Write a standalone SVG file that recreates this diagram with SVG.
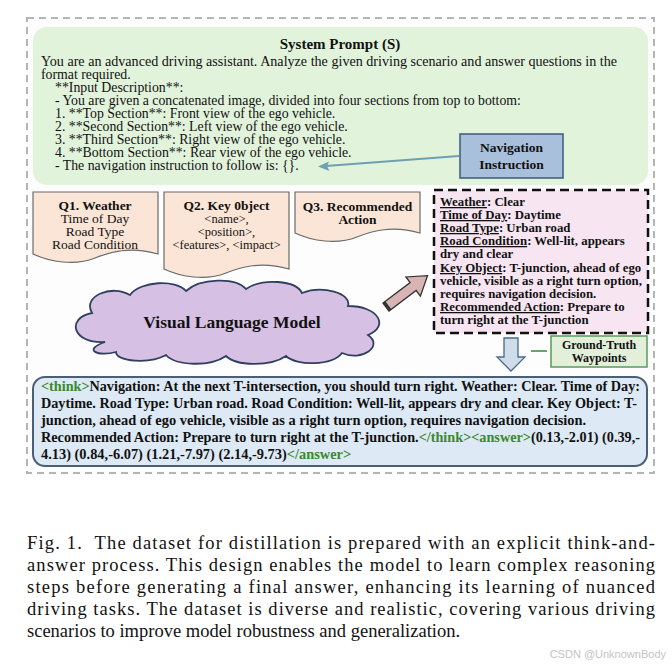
<svg xmlns="http://www.w3.org/2000/svg" width="672" height="667" viewBox="0 0 672 667">
<style>
.t{font-family:"Liberation Serif","Times New Roman",serif;fill:#111}
.b{font-weight:bold}
.doc{fill:#fbe5d6;stroke:#6b6b6b;stroke-width:1.2}
.g{fill:#3a8a2a}
</style>
<rect width="672" height="667" fill="#fff"/>
<rect x="27" y="18" width="627" height="455" fill="#fdfdfd" stroke="#b5b5b5" stroke-width="2" stroke-dasharray="7,5"/>
<g id="system-prompt">
<rect x="33" y="27" width="615" height="158" rx="14" fill="#e2f3dc"/>
<text class="t b" x="340" y="49" font-size="15" text-anchor="middle">System Prompt (S)</text>
<g class="t" font-size="13.8">
<text x="41" y="66" textLength="576" lengthAdjust="spacingAndGlyphs">You are an advanced driving assistant. Analyze the given driving scenario and answer questions in the</text>
<text x="41" y="79">format required.</text>
<text x="55" y="92">**Input Description**:</text>
<text x="55" y="105">- You are given a concatenated image, divided into four sections from top to bottom:</text>
<text x="55" y="118">1. **Top Section**: Front view of the ego vehicle.</text>
<text x="55" y="131">2. **Second Section**: Left view of the ego vehicle.</text>
<text x="55" y="144">3. **Third Section**: Right view of the ego vehicle.</text>
<text x="55" y="157">4. **Bottom Section**: Rear view of the ego vehicle.</text>
<text x="55" y="170">- The navigation instruction to follow is: {}.</text>
</g>
</g>
<g id="navigation-instruction">
<rect x="460" y="134" width="103" height="44" fill="#a9c0dc" stroke="#3d5a7a" stroke-width="1.5"/>
<text class="t b" x="511.5" y="152" font-size="13.5" text-anchor="middle">Navigation</text>
<text class="t b" x="511.5" y="169" font-size="13.5" text-anchor="middle">Instruction</text>
</g>
<g id="q1">
<path class="doc" d="M33,192 H158 V254 C130,246 110,252 95,258 C75,266 50,262 33,254 Z"/>
<text class="t b" x="95" y="210" font-size="13.5" text-anchor="middle">Q1. Weather</text>
<text class="t" x="95" y="223" font-size="13.5" text-anchor="middle">Time of Day</text>
<text class="t" x="95" y="236" font-size="13.5" text-anchor="middle">Road Type</text>
<text class="t" x="95" y="249" font-size="13.5" text-anchor="middle">Road Condition</text>
</g>
<g id="q2">
<path class="doc" d="M164,192 H289 V269 C261,261 241,267 226,273 C206,281 181,277 164,269 Z"/>
<text class="t b" x="226.5" y="210" font-size="13.5" text-anchor="middle">Q2. Key 0bject</text>
<text class="t" x="226.5" y="223" font-size="12.5" text-anchor="middle">&lt;name&gt;,</text>
<text class="t" x="226.5" y="236" font-size="12.5" text-anchor="middle">&lt;position&gt;,</text>
<text class="t" x="226.5" y="249" font-size="12.5" text-anchor="middle">&lt;features&gt;, &lt;impact&gt;</text>
</g>
<g id="q3">
<path class="doc" d="M295,192 H420 V233 C392,225 372,231 357,237 C337,245 312,241 295,233 Z"/>
<text class="t b" x="357.5" y="211" font-size="13.5" text-anchor="middle">Q3. Recommended</text>
<text class="t b" x="357.5" y="224" font-size="13.5" text-anchor="middle">Action</text>
</g>
<g id="vlm">
<path d="M105,342 C72,344 66,318 92,313 C82,296 112,284 130,295 C140,281 176,279 186,291 C200,278 236,277 246,289 C262,278 296,280 302,293 C322,285 352,293 348,306 C378,306 390,326 368,335 C384,346 362,362 342,353 C332,366 296,366 286,356 C270,367 236,366 226,356 C210,367 176,366 166,355 C150,364 116,362 116,352 C98,357 82,350 105,342 Z" fill="#d6c0e3" stroke="#2f3f5f" stroke-width="1.8"/>
<text class="t b" x="232" y="328" font-size="17.5" text-anchor="middle">Visual Language Model</text>
</g>
<g id="output">
<rect x="434" y="190" width="214" height="143" fill="#f7e6f1" stroke="#111" stroke-width="2.5" stroke-dasharray="9,5"/>
<g class="t b" font-size="12.8">
<text x="440" y="206"><tspan text-decoration="underline">Weather</tspan>: Clear</text>
<text x="440" y="219"><tspan text-decoration="underline">Time of Day</tspan>: Daytime</text>
<text x="440" y="232"><tspan text-decoration="underline">Road Type</tspan>: Urban road</text>
<text x="440" y="245"><tspan text-decoration="underline">Road Condition</tspan>: Well-lit, appears</text>
<text x="440" y="258">dry and clear</text>
<text x="440" y="272"><tspan text-decoration="underline">Key Object</tspan>: T-junction, ahead of ego</text>
<text x="440" y="285">vehicle, visible as a right turn option,</text>
<text x="440" y="298">requires navigation decision.</text>
<text x="440" y="311"><tspan text-decoration="underline">Recommended Action</tspan>: Prepare to</text>
<text x="440" y="324">turn right at the T-junction</text>
</g>
</g>
<g id="ground-truth">
<rect x="551" y="336" width="96" height="31" fill="#e2efd9" stroke="#5a9a5a" stroke-width="1.5"/>
<text class="t b" x="599" y="349" font-size="12" text-anchor="middle">Ground-Truth</text>
<text class="t b" x="599" y="362" font-size="12" text-anchor="middle">Waypoints</text>
</g>
<g id="answer">
<rect x="33" y="377" width="614" height="89" rx="12" fill="#dde9f5" stroke="#4a5f75" stroke-width="2"/>
<g class="t b" font-size="14.4">
<text x="41" y="391" textLength="599" lengthAdjust="spacingAndGlyphs"><tspan class="g">&lt;think&gt;</tspan>Navigation: At the next T-intersection, you should turn right. Weather: Clear. Time of Day:</text>
<text x="41" y="408" textLength="596" lengthAdjust="spacingAndGlyphs">Daytime. Road Type: Urban road. Road Condition: Well-lit, appears dry and clear. Key Object: T-</text>
<text x="41" y="425">junction, ahead of ego vehicle, visible as a right turn option, requires navigation decision.</text>
<text x="41" y="442" textLength="599" lengthAdjust="spacingAndGlyphs">Recommended Action: Prepare to turn right at the T-junction.<tspan class="g">&lt;/think&gt;&lt;answer&gt;</tspan>(0.13,-2.01) (0.39,-</text>
<text x="41" y="459">4.13) (0.84,-6.07) (1.21,-7.97) (2.14,-9.73)<tspan class="g">&lt;/answer&gt;</tspan></text>
</g>
</g>
<g id="connectors">
<line x1="459" y1="156" x2="326" y2="166" stroke="#6fa0b0" stroke-width="2"/>
<path d="M318,166.5 L329,161.5 L327,166.3 L329.5,171 Z" fill="#6fa0b0"/>
<g transform="translate(386,307) rotate(-37)">
<path d="M0,-5 H34 V-12 L52,0 L34,12 V5 H0 Z" fill="#d8b4b4" stroke="#333" stroke-width="1.3"/>
<rect x="0" y="-5" width="3" height="10" fill="#333"/>
</g>
<path d="M504,338 H518 V357 H525 L511,371 L497,357 H504 Z" fill="#cfdcea" stroke="#4a6a8a" stroke-width="1.3"/>
<line x1="531" y1="351" x2="547" y2="351" stroke="#5a9a5a" stroke-width="1.8"/>
</g>
<g class="t" font-size="18.5">
<text x="27" y="549" textLength="628" lengthAdjust="spacing">Fig. 1.&#160;&#160;The dataset for distillation is prepared with an explicit think-and-</text>
<text x="27" y="571" textLength="628" lengthAdjust="spacing">answer process. This design enables the model to learn complex reasoning</text>
<text x="27" y="593" textLength="628" lengthAdjust="spacing">steps before generating a final answer, enhancing its learning of nuanced</text>
<text x="27" y="615" textLength="628" lengthAdjust="spacing">driving tasks. The dataset is diverse and realistic, covering various driving</text>
<text x="27" y="637">scenarios to improve model robustness and generalization.</text>
</g>
<text x="666" y="658" font-family="'Liberation Sans',Arial,sans-serif" font-size="11" fill="#c4c4c4" text-anchor="end">CSDN @UnknownBody</text>
</svg>
